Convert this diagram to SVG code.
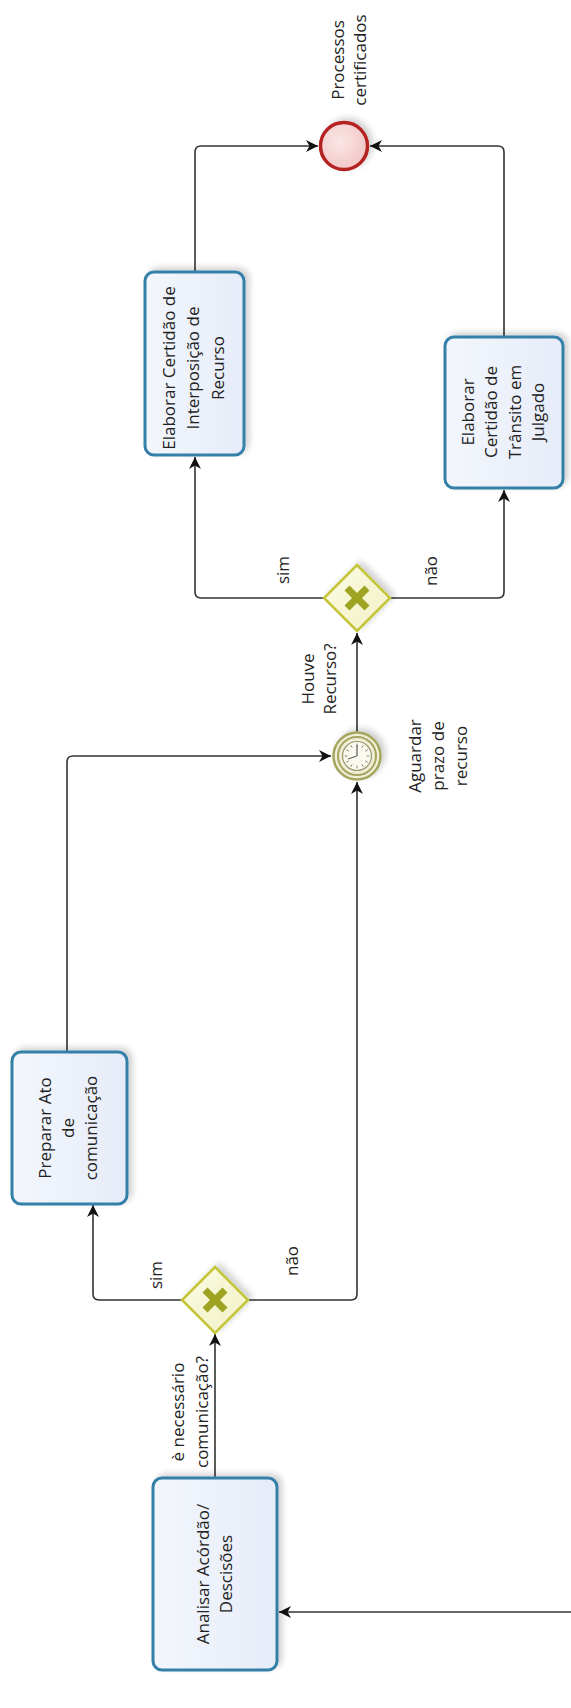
<svg xmlns="http://www.w3.org/2000/svg" width="571" height="1708" viewBox="0 0 571 1708">
<style>
text{font-family:"Open Sans","Noto Sans","Liberation Sans",sans-serif;font-size:17px;fill:#222;text-anchor:middle;dominant-baseline:central}
tspan{dominant-baseline:central}
.task{fill:url(#taskFill);stroke:#3580a8;stroke-width:3}
.conn{fill:none;stroke:#333;stroke-width:1.6}
.gw{fill:url(#gwFill);stroke:#c4c43a;stroke-width:2.5}
.gwx{stroke:#9ea322;stroke-width:7;stroke-linecap:butt}
</style>
<defs>
<marker id="arr" markerWidth="13" markerHeight="12" refX="12" refY="6" orient="auto" markerUnits="userSpaceOnUse">
<path d="M0,0 L12,6 L0,12 L3.5,6 z" fill="#111"/>
</marker>
<linearGradient id="taskFill" x1="0" y1="0" x2="1" y2="0">
<stop offset="0" stop-color="#f3f6fc"/><stop offset="1" stop-color="#e6ecf8"/>
</linearGradient>
<linearGradient id="gwFill" x1="0" y1="0" x2="1" y2="1">
<stop offset="0" stop-color="#fbfbe4"/><stop offset="1" stop-color="#f1f1c4"/>
</linearGradient>
<radialGradient id="endFill" cx="0.4" cy="0.4" r="0.7">
<stop offset="0" stop-color="#fbe6e6"/><stop offset="1" stop-color="#f0c4c4"/>
</radialGradient>
<filter id="sh" x="-20%" y="-20%" width="140%" height="140%">
<feGaussianBlur in="SourceAlpha" stdDeviation="3"/>
<feOffset dx="4" dy="-3" result="b"/>
<feComponentTransfer><feFuncA type="linear" slope="0.18"/></feComponentTransfer>
<feMerge><feMergeNode/><feMergeNode in="SourceGraphic"/></feMerge>
</filter>
</defs>
<rect width="571" height="1708" fill="#fff"/>

<g id="connectors">
<path class="conn" d="M571,1612 L279,1612" marker-end="url(#arr)"/>
<path class="conn" d="M215,1478 L215,1334" marker-end="url(#arr)"/>
<path class="conn" d="M182,1300 L99,1300 Q93,1300 93,1294 L93,1205" marker-end="url(#arr)"/>
<path class="conn" d="M248,1300 L351,1300 Q357,1300 357,1294 L357,782" marker-end="url(#arr)"/>
<path class="conn" d="M67,1051 L67,762 Q67,756 73,756 L331,756" marker-end="url(#arr)"/>
<path class="conn" d="M357,732 L357,633" marker-end="url(#arr)"/>
<path class="conn" d="M324,598 L201,598 Q195,598 195,592 L195,457" marker-end="url(#arr)"/>
<path class="conn" d="M390,598 L498,598 Q504,598 504,592 L504,490" marker-end="url(#arr)"/>
<path class="conn" d="M195,272 L195,152 Q195,146 201,146 L318,146" marker-end="url(#arr)"/>
<path class="conn" d="M504,337 L504,152 Q504,146 498,146 L370,146" marker-end="url(#arr)"/>
<text transform="translate(0,570) rotate(-90)"><tspan x="0" y="282">sim</tspan></text>
<text transform="translate(0,571) rotate(-90)"><tspan x="0" y="430">não</tspan></text>
<text transform="translate(0,679) rotate(-90)"><tspan x="0" y="307">Houve</tspan><tspan x="0" y="329">Recurso?</tspan></text>
<text transform="translate(0,1275) rotate(-90)"><tspan x="0" y="155">sim</tspan></text>
<text transform="translate(0,1261) rotate(-90)"><tspan x="0" y="291">não</tspan></text>
<text transform="translate(0,1412) rotate(-90)"><tspan x="0" y="177">è necessário</tspan><tspan x="0" y="201">comunicação?</tspan></text>
</g>

<g id="end-processos-certificados">
<circle cx="344" cy="146" r="23.5" fill="url(#endFill)" stroke="#b52020" stroke-width="3.5" filter="url(#sh)"/>
<text transform="translate(0,60) rotate(-90)"><tspan x="0" y="337">Processos</tspan><tspan x="0" y="359">certificados</tspan></text>
</g>

<g id="task-interposicao">
<rect class="task" x="145" y="272" width="99" height="183" rx="9" filter="url(#sh)"/>
<text transform="translate(0,368) rotate(-90)"><tspan x="0" y="168">Elaborar Certidão de</tspan><tspan x="0" y="192">Interposição de</tspan><tspan x="0" y="217">Recurso</tspan></text>
</g>

<g id="task-transito">
<rect class="task" x="445" y="337" width="118" height="151" rx="9" filter="url(#sh)"/>
<text transform="translate(0,412) rotate(-90)"><tspan x="0" y="467">Elaborar</tspan><tspan x="0" y="490">Certidão de</tspan><tspan x="0" y="514">Trânsito em</tspan><tspan x="0" y="537">Julgado</tspan></text>
</g>

<g id="gateway-houve-recurso">
<path class="gw" d="M357,565 L390,598 L357,631 L324,598 z" filter="url(#sh)"/>
<line class="gwx" x1="347" y1="588" x2="367" y2="608"/>
<line class="gwx" x1="367" y1="588" x2="347" y2="608"/>
</g>

<g id="timer-aguardar-prazo">
<circle cx="357" cy="756" r="23.5" fill="#efeed6" stroke="#a7a660" stroke-width="2.5" filter="url(#sh)"/>
<circle cx="357" cy="756" r="19" fill="none" stroke="#a7a660" stroke-width="2"/>
<circle cx="357" cy="756" r="14.5" fill="#fbfaf0" stroke="#9a9870" stroke-width="1.2"/>
<g stroke="#8a8870" stroke-width="1">
<line x1="357" y1="743.5" x2="357" y2="746.5"/><line x1="357" y1="765.5" x2="357" y2="768.5"/>
<line x1="344.5" y1="756" x2="347.5" y2="756"/><line x1="366.5" y1="756" x2="369.5" y2="756"/>
<line x1="363.3" y1="745.2" x2="361.8" y2="747.8"/><line x1="350.7" y1="766.8" x2="352.2" y2="764.2"/>
<line x1="367.8" y1="749.7" x2="365.2" y2="751.2"/><line x1="346.2" y1="762.3" x2="348.8" y2="760.8"/>
<line x1="350.7" y1="745.2" x2="352.2" y2="747.8"/><line x1="363.3" y1="766.8" x2="361.8" y2="764.2"/>
<line x1="346.2" y1="749.7" x2="348.8" y2="751.2"/><line x1="367.8" y1="762.3" x2="365.2" y2="760.8"/>
</g>
<path d="M357,756 L357,745 M357,756 L348,759" stroke="#666" stroke-width="1.3" fill="none"/>
<text transform="translate(0,756) rotate(-90)"><tspan x="0" y="414">Aguardar</tspan><tspan x="0" y="437">prazo de</tspan><tspan x="0" y="460">recurso</tspan></text>
</g>

<g id="task-preparar-ato">
<rect class="task" x="12" y="1052" width="115" height="152" rx="9" filter="url(#sh)"/>
<text transform="translate(0,1128) rotate(-90)"><tspan x="0" y="44">Preparar Ato</tspan><tspan x="0" y="67">de</tspan><tspan x="0" y="90">comunicação</tspan></text>
</g>

<g id="gateway-necessario-comunicacao">
<path class="gw" d="M215,1267 L248,1300 L215,1333 L182,1300 z" filter="url(#sh)"/>
<line class="gwx" x1="205" y1="1290" x2="225" y2="1310"/>
<line class="gwx" x1="225" y1="1290" x2="205" y2="1310"/>
</g>

<g id="task-analisar">
<rect class="task" x="153" y="1478" width="124" height="192" rx="9" filter="url(#sh)"/>
<text transform="translate(0,1574) rotate(-90)"><tspan x="0" y="202">Analisar Acórdão/</tspan><tspan x="0" y="225">Descisões</tspan></text>
</g>
</svg>
